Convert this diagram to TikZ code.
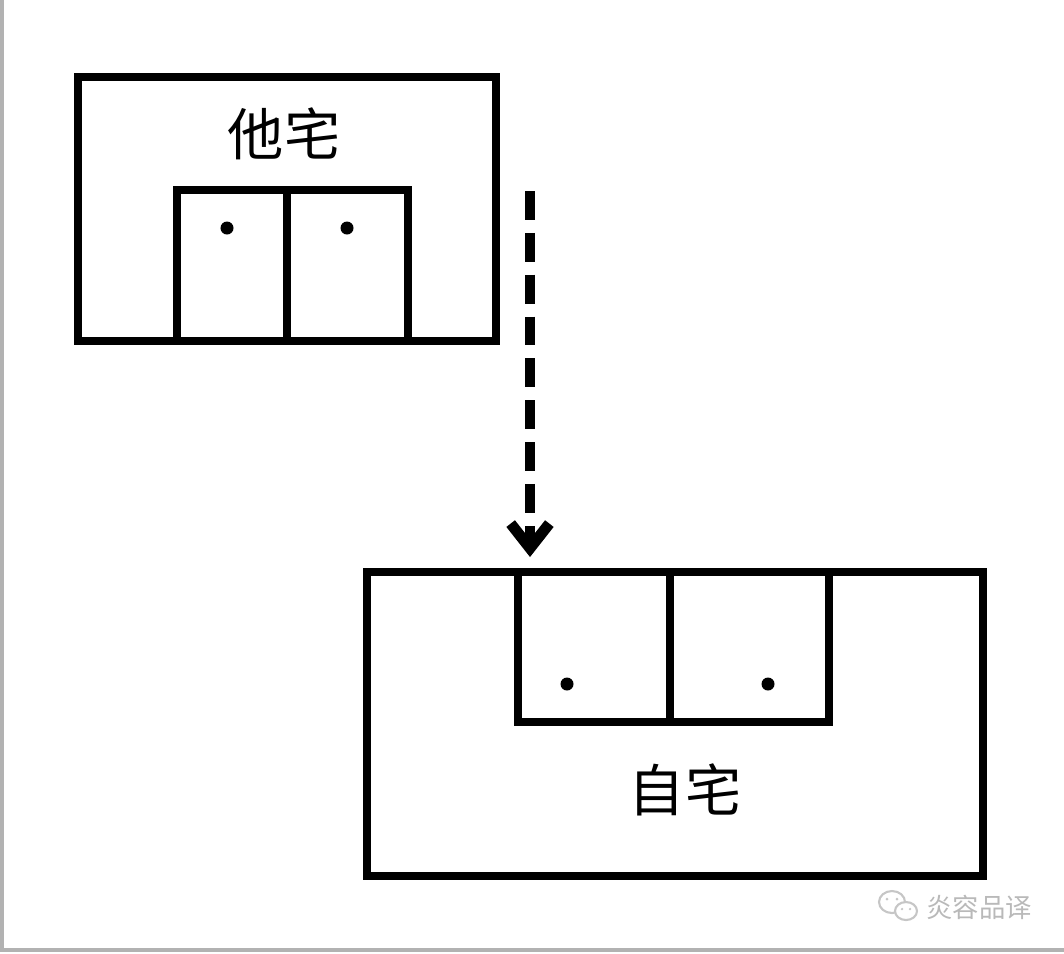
\documentclass[tikz,border=0pt]{standalone}
\usepackage{fontspec}
\newfontfamily\cjk{Noto Sans CJK SC}
\usetikzlibrary{arrows.meta}

\begin{document}
\begin{tikzpicture} [x=0.01cm,y=-0.01cm,line width=2.3pt,
			house/.style={draw,rectangle,inner sep=0pt},
			door/.style={draw,rectangle,inner sep=0pt},
			knob/.style={circle,fill,inner sep=0pt,minimum size=0.13cm},
			housename/.style={font=\cjk\fontsize{16pt}{16pt}\selectfont},
			wmark/.style={text=gray!55,font=\cjk\fontsize{7.5pt}{7.5pt}\selectfont},
			move/.style={line width=3.1pt,dash pattern=on 8.2pt off 3.7pt,
				-{Straight Barb[length=7pt,width=11pt]}}
			]

		\useasboundingbox (0,0) rectangle (1064,953);
		\draw [gray!60,line width=0.9pt] (2,0) -- (2,950) -- (1064,950);

		% other house
		\node [house, minimum width=4.18cm, minimum height=2.64cm] (other) at (287,209) {};
		\node [housename] (otherlabel) at (284,134) {他宅};
		\node [door, minimum width=1.10cm, minimum height=1.51cm] (od1) at (232,265.5) {};
		\node [door, minimum width=1.21cm, minimum height=1.51cm] (od2) at (347.5,265.5) {};
		\node [knob] (ok1) at (227,228) {};
		\node [knob] (ok2) at (347,228) {};

		% own house
		\node [house, minimum width=6.16cm, minimum height=3.04cm] (own) at (675,724) {};
		\node [housename] (ownlabel) at (685,790) {自宅};
		\node [door, minimum width=1.52cm, minimum height=1.50cm] (wd1) at (594,647) {};
		\node [door, minimum width=1.59cm, minimum height=1.50cm] (wd2) at (749.5,647) {};
		\node [knob] (wk1) at (567,684) {};
		\node [knob] (wk2) at (768,684) {};

		\coordinate (from) at (530,191);
		\coordinate (to) at (530,557);
		\draw [move] (from) -- (to);

		% watermark
		\begin{scope}[gray!45,line width=0.6pt]
			\draw (892,902) ellipse (13 and 11);
			\draw [fill=white] (906,911) ellipse (11 and 9);
			\fill (887,899) circle (1.5) (897,899) circle (1.5) (902,909) circle (1.3) (910,909) circle (1.3);
		\end{scope}
		\node [wmark] (wm) at (979,907) {炎容品译};

		\end{tikzpicture}
\end{document}
